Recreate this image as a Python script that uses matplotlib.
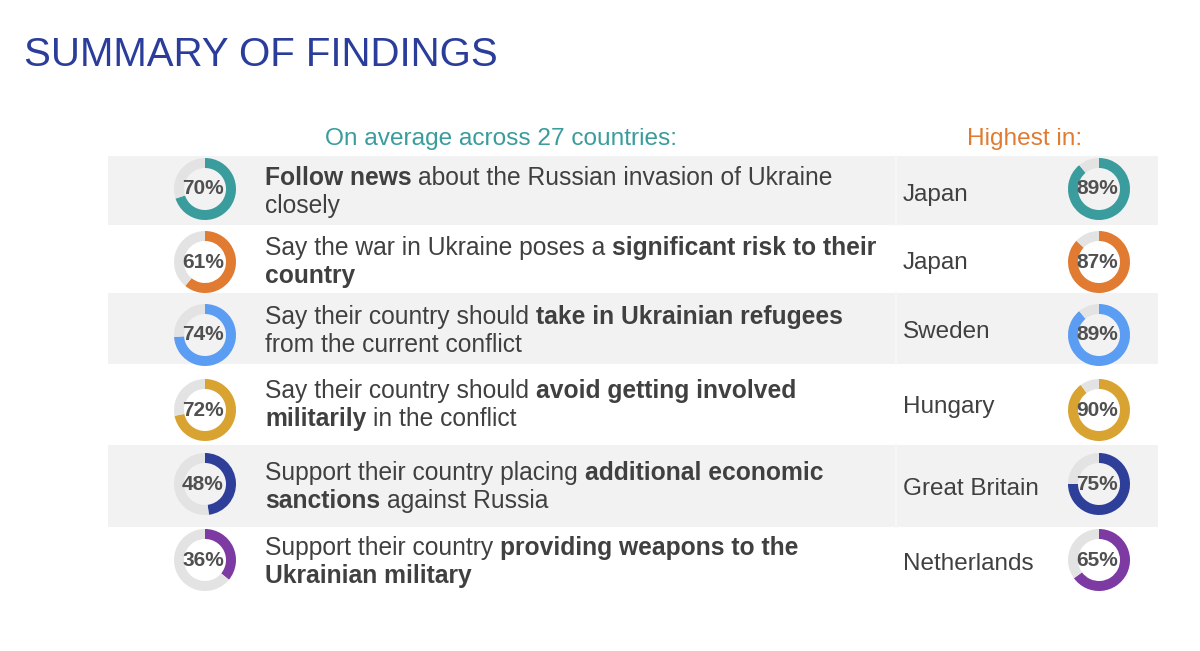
import matplotlib.pyplot as plt
from matplotlib.patches import Rectangle

plt.rcParams['font.family'] = ['Liberation Sans', 'DejaVu Sans']

# data
statements = [
    [[("Follow news", True), (" about the Russian invasion of Ukraine", False)],
     [("closely", False)]],
    [[("Say the war in Ukraine poses a ", False), ("significant risk to their", True)],
     [("country", True)]],
    [[("Say their country should ", False), ("take in Ukrainian refugees", True)],
     [("from the current conflict", False)]],
    [[("Say their country should ", False), ("avoid getting involved", True)],
     [("militarily", True), (" in the conflict", False)]],
    [[("Support their country placing ", False), ("additional economic", True)],
     [("sanctions", True), (" against Russia", False)]],
    [[("Support their country ", False), ("providing weapons to the", True)],
     [("Ukrainian military", True)]],
]
average_pct = [70, 61, 74, 72, 48, 36]
highest_country = ["Japan", "Japan", "Sweden", "Hungary", "Great Britain", "Netherlands"]
highest_pct = [89, 87, 89, 90, 75, 65]
colors = ["#3a9c9c", "#e07b31", "#5c9df4", "#d9a332", "#2e3f99", "#7d3aa3"]

W, H = 1200, 651
fig = plt.figure(figsize=(W / 100, H / 100), dpi=100)
ax = fig.add_axes([0, 0, 1, 1])

def Y(py):
    return H - py

# layout (pixel rows, top-down)
bands = [(156, 225), (225, 293), (293, 364), (364, 445), (445, 527), (527, 600)]
donut_y = [189, 262, 335, 410, 484, 560]
line1_base = [185, 255, 324, 398, 480, 555]
country_base = [201, 269, 338, 413, 495, 570]
text_col = '#404040'
fs = 17.7

for i, (top, bot) in enumerate(bands):
    if i % 2 == 0:
        ax.add_patch(Rectangle((108, Y(bot)), 1158 - 108, bot - top,
                               facecolor='#f2f2f2', edgecolor='none', zorder=0))
        ax.plot([896, 896], [Y(bot), Y(top)], color='#f7f7f7', lw=1.5, zorder=0.5)

def donut(cx, cy, val, col):
    ax.pie([val, 100 - val], colors=[col, '#e3e3e3'], startangle=90,
           counterclock=False, center=(cx, cy), radius=31,
           wedgeprops=dict(width=10, edgecolor='none'))
    ax.text(cx - 2, cy, f"{val}%", ha='center', va='center', fontsize=15,
            fontweight='bold', color='#505050', zorder=5)

for i in range(6):
    donut(205, Y(donut_y[i]), average_pct[i], colors[i])
    donut(1099, Y(donut_y[i]), highest_pct[i], colors[i])

fig.canvas.draw()
r = fig.canvas.get_renderer()

def width_of(s, bold):
    t = ax.text(0, 0, s, fontsize=fs, fontweight='bold' if bold else 'normal')
    w = t.get_window_extent(r).width
    t.remove()
    return w

def draw_line(x, y, parts):
    for s, bold in parts:
        lead = len(s) - len(s.lstrip(' '))
        trail = len(s) - len(s.rstrip(' '))
        sp = width_of("x x", bold) - width_of("xx", bold)
        x += lead * sp
        core = s.strip(' ')
        ax.text(x, y, core, fontsize=fs, fontweight='bold' if bold else 'normal',
                color=text_col, va='baseline', ha='left', zorder=5)
        x += width_of(core, bold) + trail * sp

for i, lines in enumerate(statements):
    for j, parts in enumerate(lines):
        draw_line(265, Y(line1_base[i] + 28 * j), parts)
    ax.text(903, Y(country_base[i]), highest_country[i], fontsize=17.5,
            color=text_col, va='baseline', ha='left')

ax.text(24, Y(66), "SUMMARY OF FINDINGS", fontsize=29, color='#2b3d9b',
        va='baseline', ha='left')
ax.text(501, Y(145), "On average across 27 countries:", fontsize=17.6,
        color='#3a9c9c', ha='center', va='baseline')
ax.text(1025, Y(145), "Highest in:", fontsize=17.6, color='#e07b31',
        ha='center', va='baseline')

ax.set_xlim(0, W)
ax.set_ylim(0, H)
ax.set_aspect('auto')
ax.axis('off')
fig.savefig('out.png', dpi=100, facecolor='white')
